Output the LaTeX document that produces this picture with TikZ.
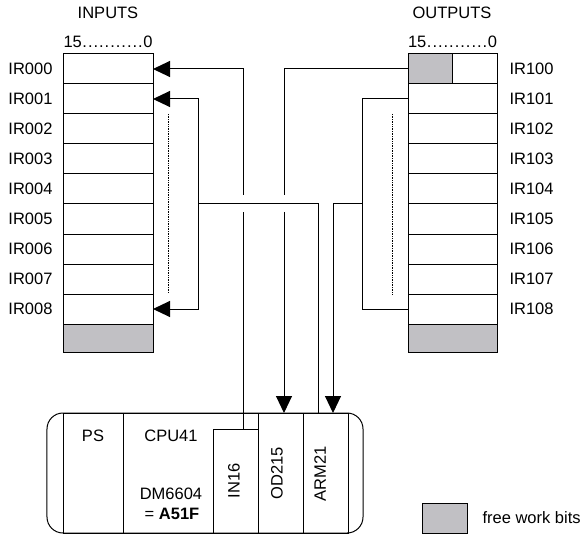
\documentclass[tikz,border=0pt]{standalone}
\usepackage{fontspec}
\setmainfont{Liberation Sans}
\usetikzlibrary{arrows.meta,calc}
\definecolor{freegray}{RGB}{193,192,196}
\newcommand{\bitscale}{\makebox[89bp]{15\xleaders\hbox to 5.4bp{\hss.\hss}\hfill 0}}
\begin{document}
\begin{tikzpicture}[x=1bp,y=-1bp,
  line width=1bp,
  font=\fontsize{16.5bp}{19bp}\selectfont,
  reg/.style={draw, minimum width=90bp, minimum height=30bp, inner sep=0pt, outer sep=0pt},
  lbl/.style={inner sep=0pt},
  mod/.style={draw, minimum height=120bp, inner sep=0pt, outer sep=0pt},
  tip/.style={-{Triangle[length=17bp,width=16bp]}},
  tiptwo/.style={{Triangle[length=17bp,width=16bp]}-{Triangle[length=17bp,width=16bp]}},
  dotline/.style={densely dotted, line width=0.7bp}
]
\useasboundingbox (0,0) rectangle (583,536);

% titles
\node[lbl] (tin) at (108,13) {INPUTS};
\node[lbl] (tout) at (452,13) {OUTPUTS};
\node[lbl, anchor=base] (bin) at (108,48) {\bitscale};
\node[lbl, anchor=base] (bout) at (452.5,48) {\bitscale};

% input register
\foreach \k in {0,...,8}{
  \node[reg] (in\k) at (108,{69+30*\k}) {};
  \node[lbl, anchor=east] (inl\k) at ([xshift=-10bp]in\k.west) {IR00\k};
}
\node[reg, fill=freegray, minimum height=28bp] (ingray) at (108,338) {};

% output register
\foreach \k in {0,...,8}{
  \node[reg, minimum width=89bp] (out\k) at (452.5,{69+30*\k}) {};
  \node[lbl, anchor=west] (outl\k) at ([xshift=12bp]out\k.east) {IR10\k};
}
\fill[freegray] (out0.north west) rectangle (out0.south);
\draw (out0.north west) rectangle (out0.south east);
\draw (out0.north) -- (out0.south);
\node[reg, minimum width=89bp, fill=freegray, minimum height=28bp] (outgray) at (452.5,338) {};

% rack
\node[draw, rounded corners=16bp, minimum width=316bp, minimum height=120bp, inner sep=0pt, outer sep=0pt] (rack) at (205,473) {};
\node[mod, minimum width=60bp] (ps) at (93,473) {};
\node[mod, minimum width=135bp] (cpu) at (190.5,473) {};
\node[mod, minimum width=45bp] (od) at (280.5,473) {};
\node[mod, minimum width=45bp] (arm) at (325.5,473) {};
\node[draw, minimum width=45bp, minimum height=104bp, inner sep=0pt, outer sep=0pt] (in16) at (235.5,481) {};

\node[lbl] (tps) at (93,436) {PS};
\node[lbl] (tcpu) at (171,436) {CPU41};
\node[lbl] (tdm) at (171,494) {DM6604};
\node[lbl] (tval) at (172,514) {= \textbf{A51F}};
\node[lbl, rotate=90] (tin16) at (234,481) {IN16};
\node[lbl, rotate=90] (tod) at (277,473) {OD215};
\node[lbl, rotate=90] (tarm) at (320,474) {ARM21};

% helper coordinates
\coordinate (xa) at (243,0);
\coordinate (xb) at (284,0);
\coordinate (xc) at (318,0);
\coordinate (xd) at (333,0);

% IN16 -> IR000
\draw (in16.north -| xa) -- (243,212);
\draw[tip] (243,195) |- (in0.east);
% IR100 -> OD215
\draw (out0.west) -| (284,195);
\draw[tip] (284,212) -- (od.north -| xb);
% ARM21 -> IR001..IR008
\draw (arm.north -| xc) |- (198,204);
\draw[tiptwo] (in1.east) -| (198,309) -- (in8.east);
% IR101..IR108 -> ARM21
\draw (out1.west) -| (362,309) -- (out8.west);
\draw[tip] (362,204) -| (arm.north -| xd);

% dotted
\draw[dotline] (168,114) -- (168,293);
\draw[dotline] (392,114) -- (392,294);

% legend
\node[draw, fill=freegray, minimum width=45bp, minimum height=30bp, inner sep=0pt] (legend) at (444.5,518) {};
\node[lbl, anchor=west] (tlegend) at (482,518) {free work bits};
\end{tikzpicture}
\end{document}
